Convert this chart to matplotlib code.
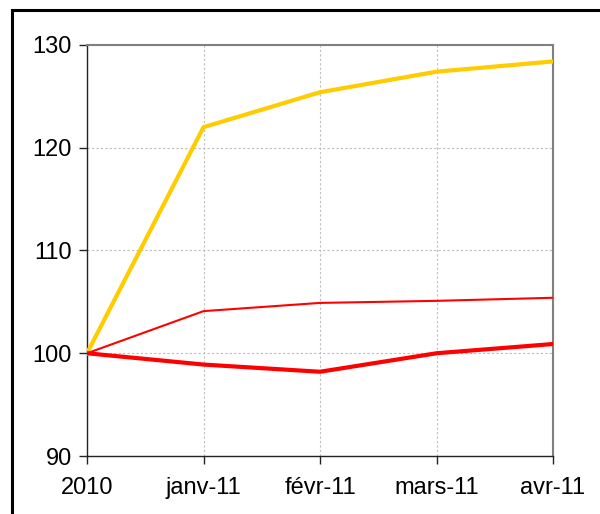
import matplotlib.pyplot as plt
from matplotlib.patches import Rectangle

plt.rcParams['font.family'] = ['Liberation Sans', 'DejaVu Sans']

months = ['2010', 'janv-11', 'févr-11', 'mars-11', 'avr-11']
yellow_vals = [100, 122.0, 125.4, 127.4, 128.4]
thin_red_vals = [100, 104.1, 104.9, 105.1, 105.4]
thick_red_vals = [100, 98.9, 98.2, 100.0, 100.9]

fig = plt.figure(figsize=(6, 5.14), dpi=100)
ax = fig.add_axes([0.145, 0.1128, 0.7767, 0.7997])

x = range(len(months))
ax.plot(x, yellow_vals, color='#FFCC00', lw=3.0, solid_joinstyle='round', zorder=3)
ax.plot(x, thin_red_vals, color='#FF0000', lw=1.5, zorder=3)
ax.plot(x, thick_red_vals, color='#FF0000', lw=3.0, solid_joinstyle='round', zorder=4)

ax.set_xlim(0, 4)
ax.set_ylim(90, 130)
ax.set_xticks(list(x))
ax.set_xticklabels(months)
ax.set_yticks([90, 100, 110, 120, 130])

ax.grid(True, color='#bdbdbd', linestyle=(0, (2, 2)), linewidth=0.8)
ax.set_axisbelow(True)

for s in ['top', 'right']:
    ax.spines[s].set_color('#808080')
    ax.spines[s].set_linewidth(1.5)
for s in ['left', 'bottom']:
    ax.spines[s].set_color('#222222')
    ax.spines[s].set_linewidth(1.0)

ax.tick_params(axis='both', direction='out', length=6, width=1, color='#222222',
               labelsize=17, pad=5)
ax.tick_params(axis='x', pad=9)

# outer frame of the picture (cut off at right and bottom)
fig.patches.append(Rectangle((12 / 600, -0.05), 1.2, 1 - 10 / 514 + 0.05,
                             transform=fig.transFigure, fill=False,
                             edgecolor='black', linewidth=2.2))

plt.savefig('out.png', dpi=100)
